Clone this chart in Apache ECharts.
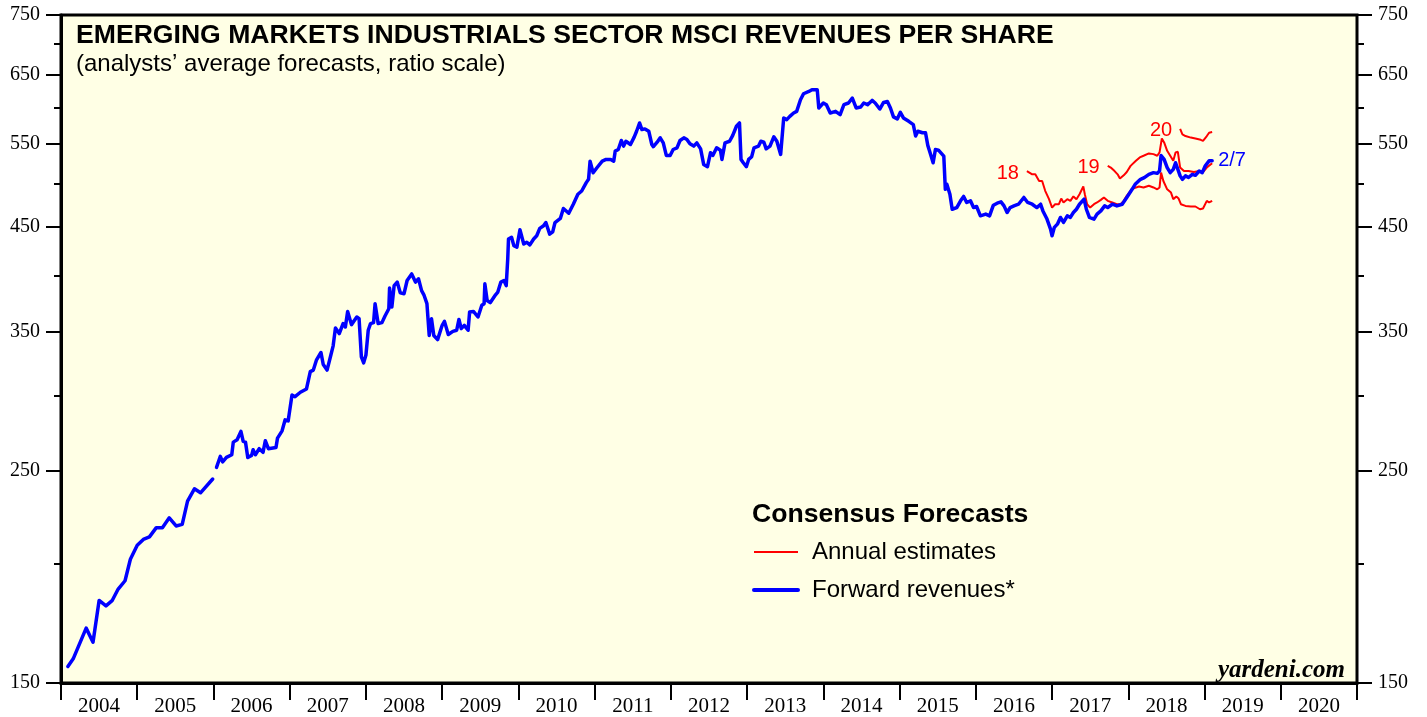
<!DOCTYPE html>
<html>
<head>
<meta charset="utf-8">
<script src="https://cdn.jsdelivr.net/npm/echarts@6/dist/echarts.min.js"></script>
<style>
html,body{margin:0;padding:0;background:#fff;}
#chart{width:1427px;height:717px;}
</style>
</head>
<body>
<div id="chart"></div>
<script>
// ---- Data (decimal years, revenues per share) ----
const yearLabels = [2004,2005,2006,2007,2008,2009,2010,2011,2012,2013,2014,2015,2016,2017,2018,2019,2020];
const majorTicks = [150,250,350,450,550,650,750];
const minorTicks = [200,300,400,500,600,700];

const fwdEarlyYears = [2004.09,2004.16,2004.33,2004.42,2004.50,2004.59,2004.67,2004.75,2004.84,2004.91,2005.00,2005.08,2005.16,2005.25,2005.33,2005.42,2005.51,2005.59,2005.66,2005.75,2005.83,2005.99];
const fwdEarlyValues = [156.1,159.0,171.2,165.5,183.0,180.6,182.9,188.1,191.9,202.1,209.0,212.0,213.3,218.1,218.1,223.3,219.0,219.8,232.5,239.5,237.2,245.2];

const fwdYears = [2006.04,2006.09,2006.12,2006.17,2006.24,2006.26,2006.31,2006.36,2006.39,2006.42,2006.45,2006.50,2006.52,2006.55,2006.60,2006.65,2006.68,2006.72,2006.82,2006.84,2006.90,2006.94,2006.98,
2007.03,2007.07,2007.14,2007.22,2007.27,2007.31,2007.35,2007.41,2007.44,2007.49,2007.54,2007.57,2007.60,2007.65,2007.70,2007.73,2007.76,2007.81,2007.88,2007.91,2007.94,2007.97,
2008.00,2008.03,2008.06,2008.10,2008.12,2008.16,2008.21,2008.25,2008.30,2008.31,2008.34,2008.37,2008.41,2008.45,2008.50,2008.54,2008.60,2008.65,2008.69,2008.73,2008.76,2008.80,2008.83,2008.86,2008.89,2008.94,
2009.00,2009.03,2009.08,2009.14,2009.19,2009.22,2009.25,2009.29,2009.34,2009.36,2009.41,2009.47,2009.52,2009.55,2009.56,2009.59,2009.63,2009.70,2009.73,2009.77,2009.81,2009.84,2009.86,2009.87,2009.91,2009.94,2009.98,
2010.02,2010.07,2010.11,2010.15,2010.20,2010.24,2010.28,2010.33,2010.36,2010.41,2010.45,2010.48,2010.55,2010.59,2010.66,2010.72,2010.78,2010.83,2010.89,2010.92,2010.94,2010.98,
2011.03,2011.10,2011.15,2011.21,2011.25,2011.27,2011.31,2011.35,2011.38,2011.41,2011.47,2011.52,2011.55,2011.59,2011.62,2011.66,2011.71,2011.75,2011.77,2011.82,2011.86,2011.90,2011.94,2011.99,
2012.03,2012.08,2012.12,2012.17,2012.21,2012.25,2012.30,2012.34,2012.39,2012.43,2012.48,2012.52,2012.55,2012.60,2012.65,2012.67,2012.71,2012.77,2012.81,2012.86,2012.90,2012.92,2012.95,2012.99,
2013.02,2013.06,2013.09,2013.15,2013.18,2013.22,2013.25,2013.30,2013.35,2013.39,2013.44,2013.46,2013.48,2013.52,2013.56,2013.61,2013.65,2013.70,2013.74,2013.81,2013.85,2013.92,2013.94,2013.96,
2014.00,2014.04,2014.09,2014.16,2014.22,2014.27,2014.33,2014.38,2014.43,2014.49,2014.53,2014.58,2014.64,2014.68,2014.74,2014.79,2014.84,2014.88,2014.92,2014.97,
2015.01,2015.05,2015.12,2015.18,2015.21,2015.24,2015.30,2015.34,2015.37,2015.40,2015.44,2015.47,2015.51,2015.58,2015.60,2015.62,2015.66,2015.69,2015.75,2015.80,2015.84,2015.88,2015.93,2015.97,
2016.01,2016.06,2016.13,2016.18,2016.23,2016.28,2016.33,2016.37,2016.41,2016.45,2016.50,2016.56,2016.63,2016.68,2016.74,2016.80,2016.85,2016.88,2016.93,2016.98,
2017.00,2017.03,2017.07,2017.11,2017.15,2017.20,2017.24,2017.28,2017.32,2017.36,2017.42,2017.45,2017.49,2017.55,2017.59,2017.64,2017.69,2017.73,2017.79,2017.85,2017.92,2017.98,
2018.05,2018.09,2018.16,2018.21,2018.27,2018.33,2018.38,2018.41,2018.43,2018.47,2018.51,2018.55,2018.59,2018.62,2018.64,2018.68,2018.71,2018.75,2018.79,2018.84,2018.88,2018.93,2018.97,
2019.01,2019.06,2019.10];
const fwdValues = [252.2,259.0,255.5,258.3,260.0,268.0,269.5,275.0,268.5,268.0,258.3,259.6,263.1,260.0,263.8,261.5,268.9,263.8,264.6,270.6,275.4,282.8,282.1,
300.2,299.0,302.2,304.6,317.6,318.8,326.5,332.6,323.1,318.8,330.6,338.0,352.9,348.1,356.6,353.7,367.2,355.7,362.3,360.8,329.1,324.4,
330.6,350.9,356.6,357.4,374.1,356.6,357.4,363.2,369.6,388.4,371.1,390.8,394.1,384.0,383.2,395.6,401.9,394.1,397.2,386.1,382.2,374.1,346.5,360.8,346.5,343.1,
355.1,358.5,347.3,350.0,350.9,360.2,352.3,355.1,350.9,366.7,367.2,362.3,372.7,374.1,392.4,377.0,375.0,382.2,384.7,394.1,395.6,390.8,416.7,437.2,439.0,430.3,428.7,
447.0,432.0,433.8,431.0,437.2,440.6,448.5,451.3,454.9,442.4,444.8,454.9,459.4,470.5,465.2,475.4,487.0,490.8,500.8,504.8,527.4,512.8,
519.1,527.4,529.6,529.6,527.4,540.3,542.4,554.3,546.9,553.3,549.0,559.2,566.8,578.2,569.1,570.0,566.8,549.0,546.1,552.0,557.9,551.2,534.7,534.7,
542.4,544.6,554.3,557.9,555.6,549.9,546.9,551.2,543.3,523.3,520.4,538.3,534.7,544.6,541.5,529.6,551.2,553.3,560.9,573.7,578.2,529.6,525.4,520.4,
529.6,533.1,544.6,546.9,553.3,552.0,543.3,546.9,559.2,553.3,536.0,533.8,585.3,582.9,587.5,592.3,594.6,611.5,620.4,623.8,626.3,626.3,599.5,597.0,
606.7,604.2,592.3,594.6,589.9,604.2,606.7,614.0,599.5,600.9,606.7,604.2,610.5,606.7,598.0,607.6,609.0,599.5,586.8,583.9,
593.2,585.3,580.5,576.0,560.3,566.8,564.8,564.8,547.8,538.3,525.4,542.4,541.5,533.8,492.8,498.8,487.0,469.7,471.6,479.3,484.4,477.4,479.3,471.6,
472.8,462.3,464.2,462.3,474.3,476.6,478.1,473.5,466.0,471.6,473.5,475.4,483.2,477.4,475.4,471.6,475.4,467.8,459.4,447.7,
440.6,449.6,453.1,460.5,455.0,462.3,460.5,466.0,469.7,475.4,481.2,469.7,460.5,458.6,464.2,467.8,473.5,471.6,475.4,473.5,475.4,483.2,
492.8,498.8,504.8,506.9,510.9,513.0,512.1,515.0,534.7,529.6,519.3,513.0,517.0,525.4,523.3,509.0,504.8,509.0,507.0,510.9,509.7,515.0,513.0,
521.5,527.8,527.8];

const est18Years = [2016.67,2016.74,2016.78,2016.83,2016.87,2016.91,2016.96,2017.00,2017.04,2017.09,2017.12,2017.15,2017.20,2017.24,2017.28,2017.32,2017.36,2017.41,2017.43,2017.46,2017.50,2017.55,2017.59,2017.64,2017.68,2017.73,2017.79,2017.85,2017.90,2017.94,2017.98,2018.03,2018.07,2018.14,2018.20,2018.27,2018.33,2018.38,2018.41,2018.43,2018.46,2018.51,2018.56,2018.59,2018.63,2018.66,2018.69,2018.75,2018.82,2018.88,2018.94,2018.98,2019.03,2019.06,2019.10];
const est18Values = [514.9,510.9,510.9,502.8,502.8,491.0,481.2,471.6,475.4,475.4,482.0,477.4,481.2,479.3,484.4,481.2,487.0,496.2,487.0,475.4,471.6,475.4,477.4,480.4,483.2,479.3,477.4,475.4,475.4,479.3,485.1,491.0,493.9,496.2,495.0,497.0,495.0,492.8,495.0,513.0,502.8,492.8,488.9,481.2,484.4,482.0,475.4,473.5,472.8,472.8,469.7,470.5,479.3,477.4,479.3];

const est19Years = [2017.73,2017.77,2017.82,2017.86,2017.89,2017.94,2017.98,2018.03,2018.10,2018.15,2018.20,2018.27,2018.33,2018.38,2018.41,2018.44,2018.47,2018.51,2018.55,2018.59,2018.62,2018.65,2018.68,2018.73,2018.79,2018.86,2018.93,2018.98,2019.03,2019.10];
const est19Values = [521.4,519.3,514.9,510.9,505.7,509.7,513.8,521.4,527.8,532.2,534.3,537.3,536.4,534.3,538.6,557.0,551.7,540.7,534.3,527.8,538.6,539.4,519.3,514.9,514.9,513.8,514.9,513.8,519.3,524.8];

const est20Years = [2018.68,2018.71,2018.75,2018.82,2018.88,2018.95,2018.98,2019.03,2019.06,2019.10];
const est20Values = [570.0,562.6,560.3,558.2,557.0,555.2,553.9,560.3,564.8,565.7];

// ---- build ----
const pairs = (xs, ys) => xs.map((x, i) => [x, ys[i]]);
const lg = v => Math.log10(v);
const LMIN = lg(150), LMAX = lg(750);
const majorLog = majorTicks.map(lg);
const minorLog = minorTicks.map(lg);
const yearLabelPos = yearLabels.map(y => y + 0.5);

const BLACK = '#000';
const RED = '#ff0000';
const BLUE = '#0000ff';
const SANS = 'Liberation Sans';
const SERIF = 'Liberation Serif';

function tickAxis(position, ticks, len, withLabels) {
  return {
    type: 'value', min: LMIN, max: LMAX, position: position,
    axisLine: { show: false },
    axisTick: { show: true, inside: false, length: len, customValues: ticks, lineStyle: { color: BLACK, width: 2 } },
    axisLabel: withLabels ? {
      show: true, customValues: ticks, margin: 21,
      formatter: v => String(Math.round(Math.pow(10, v))),
      fontFamily: SERIF, fontSize: 20, color: BLACK
    } : { show: false },
    splitLine: { show: false }
  };
}

function estSeries(xs, ys, label) {
  return {
    type: 'line', name: 'Annual estimates', xAxisIndex: 0, yAxisIndex: 0,
    data: pairs(xs, ys), symbol: 'none', showSymbol: false,
    lineStyle: { color: RED, width: 2 }, itemStyle: { color: RED },
    z: 3,
    markPoint: {
      symbol: 'circle', symbolSize: 0, silent: true,
      data: [{ coord: [xs[0], ys[0]] }],
      label: { show: true, formatter: label, position: 'left', distance: 7, offset: [-1, 2],
               color: RED, fontFamily: SANS, fontSize: 20 }
    }
  };
}

const chart = echarts.init(document.getElementById('chart'), null, { renderer: 'canvas' });
chart.setOption({
  animation: false,
  backgroundColor: '#ffffff',
  title: [
    { text: 'EMERGING MARKETS INDUSTRIALS SECTOR MSCI REVENUES PER SHARE', left: 71, top: 17,
      textStyle: { fontFamily: SANS, fontSize: 26.6, fontWeight: 'bold', color: BLACK } },
    { text: '(analysts\u2019 average forecasts, ratio scale)', left: 71, top: 47,
      textStyle: { fontFamily: SANS, fontSize: 24, fontWeight: 'normal', color: BLACK } },
    { text: 'Consensus Forecasts', left: 747, top: 496,
      textStyle: { fontFamily: SANS, fontSize: 26.6, fontWeight: 'bold', color: BLACK } }
  ],
  legend: {
    orient: 'vertical', left: 747, top: 535, itemWidth: 44, itemHeight: 14, itemGap: 14,
    selectedMode: false,
    itemStyle: { opacity: 0 },
    data: [
      { name: 'Annual estimates', lineStyle: { color: RED, width: 2 } },
      { name: 'Forward revenues*', lineStyle: { color: BLUE, width: 4 } }
    ],
    textStyle: { fontFamily: SANS, fontSize: 24, color: BLACK, padding: [0, 0, 0, 9] }
  },
  grid: { left: 61, right: 70, top: 15, bottom: 31, show: true, backgroundColor: '#ffffe5',
          borderColor: BLACK, borderWidth: 3 },
  xAxis: [{
    type: 'value', min: 2004, max: 2021, interval: 1,
    axisLine: { show: true, lineStyle: { color: BLACK, width: 3 } },
    axisTick: { show: true, inside: false, length: 17, lineStyle: { color: BLACK, width: 2 } },
    axisLabel: { show: true, customValues: yearLabelPos, formatter: v => String(Math.floor(v)),
                 fontFamily: SERIF, fontSize: 21, color: BLACK, margin: 13 },
    splitLine: { show: false }
  }],
  yAxis: [
    { type: 'log', logBase: 10, min: 150, max: 750, position: 'left',
      axisLine: { show: true, lineStyle: { color: BLACK, width: 3 } },
      axisTick: { show: false }, axisLabel: { show: false }, splitLine: { show: false } },
    tickAxis('left', majorLog, 15, true),
    tickAxis('left', minorLog, 7, false),
    tickAxis('right', majorLog, 15, true),
    tickAxis('right', minorLog, 7, false)
  ],
  graphic: [{
    type: 'text', right: 82, top: 658, silent: true,
    style: { text: 'yardeni.com', font: 'italic bold 25px "Liberation Serif"', fill: BLACK }
  }],
  series: [
    estSeries(est18Years, est18Values, '18'),
    estSeries(est19Years, est19Values, '19'),
    estSeries(est20Years, est20Values, '20'),
    { type: 'line', name: 'Forward revenues*', data: pairs(fwdEarlyYears, fwdEarlyValues),
      symbol: 'none', showSymbol: false, z: 4,
      lineStyle: { color: BLUE, width: 3.5, join: 'round', cap: 'round' }, itemStyle: { color: BLUE } },
    { type: 'line', name: 'Forward revenues*', data: pairs(fwdYears, fwdValues),
      symbol: 'none', showSymbol: false, z: 4,
      lineStyle: { color: BLUE, width: 3.5, join: 'round', cap: 'round' }, itemStyle: { color: BLUE },
      endLabel: { show: true, formatter: '2/7', color: BLUE, fontFamily: SANS, fontSize: 20, distance: 6 } }
  ]
});
</script>
</body>
</html>
